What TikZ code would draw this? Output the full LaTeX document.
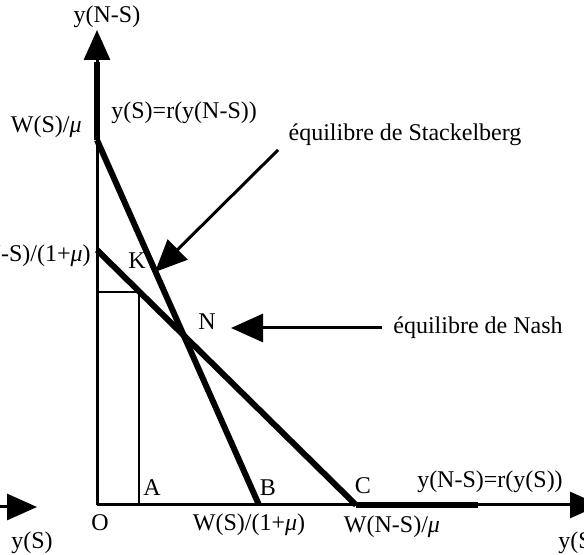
\documentclass[tikz,border=0pt]{standalone}
\usepackage{fontspec}
\setmainfont{Liberation Serif}
\usetikzlibrary{arrows.meta,positioning}

\begin{document}
\begin{tikzpicture}[
        x=0.5pt, y=-0.5pt,
        font=\fontsize{12}{14}\selectfont,
        axis/.style={draw, line width=1.5pt},
        react/.style={draw, line width=3pt},
        guide/.style={draw, line width=1.1pt},
        bighead/.style={-{Triangle[length=15pt,width=13pt]}},
        pointer/.style={draw, line width=1.5pt, -{Triangle[length=16pt,width=14pt]}},
        lbl/.style={inner sep=1pt}
    ]
        \useasboundingbox (0,0) rectangle (584,555);
        \clip (0,0) rectangle (584,555);

        % points of the game
        \coordinate (O)     at (97,505);
        \coordinate (ytop)  at (97,30);
        \coordinate (ybase) at (97,62);
        \coordinate (WS)    at (97,140);
        \coordinate (WNS)   at (97,250);
        \coordinate (B)     at (259,505);
        \coordinate (C)     at (356,505);
        \coordinate (rend)  at (478,505);
        \coordinate (xend)  at (600,505);
        \coordinate (ry)    at (97,292);
        \coordinate (Kc)    at (139,292);
        \coordinate (A)     at (139,505);
        \coordinate (ysa)   at (-10,507);
        \coordinate (ysb)   at (37,507);

        % axes
        \path[axis, bighead] (O) -- (ytop);
        \path[axis, bighead] (O) -- (xend);
        \path[axis, bighead] (ysa) -- (ysb);

        % reaction functions
        \path[react] (WS)  -- (ybase);
        \path[react] (C)   -- (rend);
        \path[react] (WS)  -- (B);
        \path[react] (WNS) -- (C);

        % Stackelberg rectangle
        \path[guide] (ry) -- (Kc) -- (A);

        % labels
        \node[lbl] (lyns)  at (107,17)  {y(N-S)};
        \node[lbl, anchor=west] (lrs) at (109,113) {y(S)=r(y(N-S))};
        \node[lbl, anchor=east] (lws) at (84,127) {W(S)/\textit{μ}};
        \node[lbl, anchor=east] (lwns) at (93,256) {W(N-S)/(1+\textit{μ})};
        \node[lbl] (lK)    at (137,261) {K};
        \node[lbl] (lN)    at (207,322) {N};
        \node[lbl] (lA)    at (152,488) {A};
        \node[lbl] (lB)    at (268,488) {B};
        \node[lbl] (lC)    at (363,486) {C};
        \node[lbl] (lO)    at (100,523) {O};
        \node[lbl] (lwsb)  at (249,525) {W(S)/(1+\textit{μ})};
        \node[lbl] (lwnsc) at (392,527) {W(N-S)/\textit{μ}};
        \node[lbl] (lrns)  at (490,482) {y(N-S)=r(y(S))};
        \node[lbl] (lysl)  at (32,543)  {y(S)};
        \node[lbl, anchor=west] (lysr) at (556,543) {y(S)};

        % equilibrium pointers
        \node[lbl] (stack) at (405,135) {équilibre de Stackelberg};
        \node[lbl, anchor=west] (nash) at (391,328) {équilibre de Nash};
        \coordinate (stk0) at (278,150);
        \coordinate (stk1) at (155,272);
        \coordinate (nsh0) at (382,328);
        \coordinate (nsh1) at (231,328);
        \path[pointer] (stk0) -- (stk1);
        \path[pointer] (nsh0) -- (nsh1);
    \end{tikzpicture}
\end{document}
